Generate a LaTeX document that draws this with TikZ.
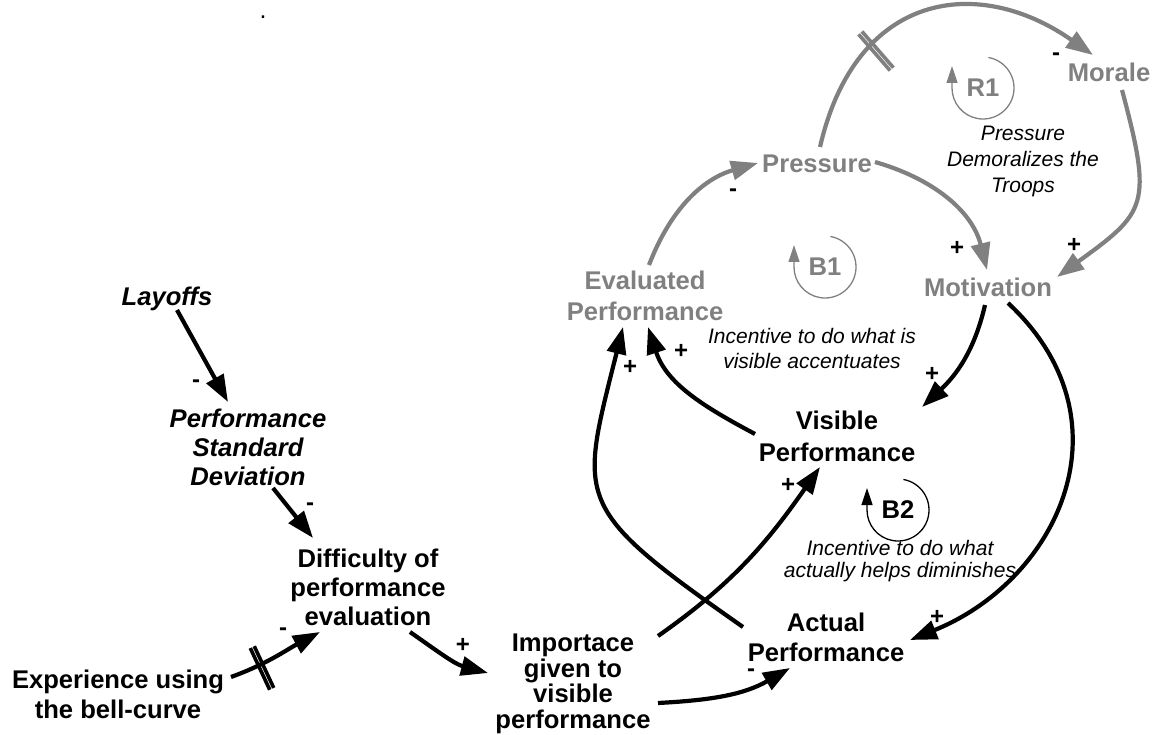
\documentclass[tikz,border=0pt]{standalone}
\usepackage{fontspec}
\setmainfont{Liberation Sans}
\usetikzlibrary{arrows.meta,calc}
\definecolor{lgray}{RGB}{128,128,128}
\begin{document}
\begin{tikzpicture}[x=1pt,y=1pt,
  var/.style={align=center, font=\fontsize{25.6}{30}\selectfont\bfseries, inner sep=0pt},
  ivar/.style={var, font=\fontsize{25.6}{29}\selectfont\bfseries\itshape},
  gvar/.style={var, text=lgray},
  note/.style={align=center, font=\fontsize{21}{25}\selectfont\itshape, inner sep=0pt},
  sgn/.style={font=\fontsize{24}{24}\selectfont\bfseries, inner sep=0pt},
  link/.style={line width=4.2pt, -{Triangle[length=27pt,width=19pt]}},
  glink/.style={link, lgray},
  loopb/.style={line width=1.3pt, -{Triangle[length=17pt,width=11pt]}},
  gloopb/.style={loopb, lgray},
  delaymk/.style={line width=3.6pt},
]
\useasboundingbox (0,0) rectangle (1156,-735);

% variables
\node[var, font=\fontsize{25}{30}\selectfont] (dot) at (263,-17) {.};
\node[ivar] (lay) at (167,-299) {Layoffs};
\node[ivar] (psd) at (248,-447) {Performance\\Standard\\Deviation};
\node[var, font=\fontsize{25.6}{29}\selectfont\bfseries] (dif) at (368,-587) {Difficulty of\\performance\\evaluation};
\node[var] (exp) at (118,-694) {Experience using\\the bell-curve};
\node[var, font=\fontsize{25.6}{25.5}\selectfont\bfseries] (imp) at (573,-684) {Importace\\given to\\visible\\performance};
\node[var] (act) at (826,-637) {Actual\\Performance};
\node[var, font=\fontsize{25.6}{32}\selectfont\bfseries] (vis) at (837,-436) {Visible\\Performance};
\node[gvar, font=\fontsize{25.6}{31}\selectfont\bfseries] (eva) at (645,-296) {Evaluated\\Performance};
\node[gvar] (mot) at (988,-287) {Motivation};
\node[gvar] (pre) at (817,-164) {Pressure};
\node[gvar] (mor) at (1109,-72) {Morale};

% loop names and notes
\node[gvar] (R1) at (983,-88) {R1};
\node[gvar] (B1) at (825,-267) {B1};
\node[var] (B2) at (898,-510) {B2};
\node[note, font=\fontsize{21}{26}\selectfont\itshape] (n1) at (1023,-161) {Pressure\\Demoralizes the\\Troops};
\node[note] (n2) at (812,-348) {Incentive to do what is\\visible accentuates};
\node[note, font=\fontsize{21}{22}\selectfont\itshape] (n3) at (900,-561) {Incentive to do what\\actually helps diminishes};

% loop arrows
\draw[gloopb] ($(R1)+(80:31)$) arc[start angle=80, end angle=-180, radius=31] -- ++(0,22);
\draw[gloopb] ($(B1)+(80:31)$) arc[start angle=80, end angle=-180, radius=31] -- ++(0,22);
\draw[loopb] ($(B2)+(80:31)$) arc[start angle=80, end angle=-180, radius=31] -- ++(0,22);

% black links
\draw[link] ($(lay)+(10,-11)$) -- ($(psd)+(-20,45)$);
\draw[link] ($(psd)+(25,-41)$) -- ($(dif)+(-55,49)$);
\draw[link] ($(exp)+(113,17)$) to[out=20,in=208] ($(dif)+(-48,-45)$);
\coordinate (d1) at (262,-668);
\draw[delaymk] ($(d1)+(25:2.2)+(115:23)$) -- ($(d1)+(25:2.2)+(-65:23)$);
\draw[delaymk] ($(d1)+(205:2.2)+(115:23)$) -- ($(d1)+(205:2.2)+(-65:23)$);
\draw[link] ($(dif)+(42,-45)$) to[out=-35,in=165] ($(imp)+(-85,11)$);
\draw[link] ($(imp)+(85,-19)$) to[out=3,in=210] ($(act)+(-36,-31)$);
\draw[link] ($(imp)+(85,48)$) to[out=35,in=235] ($(vis)+(-17,-31)$);
\draw[link] ($(act)+(-83,10)$) .. controls +(145:210) and +(256:180) .. ($(eva)+(-22,-31)$);
\draw[link] ($(vis)+(-82,2)$) to[out=152,in=-72] ($(eva)+(3,-31)$);
\draw[link] ($(mot)+(-3,-18)$) to[out=-103,in=43] ($(vis)+(85,29)$);
\draw[link] ($(mot)+(20,-16)$) .. controls +(-43:172) and +(22:160) .. ($(act)+(84,-3)$);

% gray links
\draw[glink] ($(eva)+(4,31)$) to[out=69,in=196] ($(pre)+(-59,1)$);
\draw[glink] ($(pre)+(58,2)$) to[out=-16,in=104] ($(mot)+(-1,17)$);
\draw[glink] ($(pre)+(3,17)$) .. controls +(77:160) and +(145:140) .. ($(mor)+(-16,17)$);
\coordinate (d2) at (876,-51);
\draw[delaymk, lgray] ($(d2)+(41:2.2)+(131:24)$) -- ($(d2)+(41:2.2)+(-49:24)$);
\draw[delaymk, lgray] ($(d2)+(221:2.2)+(131:24)$) -- ($(d2)+(221:2.2)+(-49:24)$);
\draw[glink] ($(mor)+(13,-18)$) .. controls +(-75:120) and +(36:110) .. ($(mot)+(69,10)$);

% polarity signs
\node[sgn] (s1) at (196,-384) {-};
\node[sgn] (s2) at (310,-507) {-};
\node[sgn] (s3) at (283,-632) {-};
\node[sgn] (s4) at (463,-645) {+};
\node[sgn] (s5) at (751,-673) {-};
\node[sgn] (s6) at (788,-485) {+};
\node[sgn] (s7) at (630,-367) {+};
\node[sgn] (s8) at (681,-351) {+};
\node[sgn] (s9) at (932,-374) {+};
\node[sgn] (s10) at (937,-617) {+};
\node[sgn] (s11) at (733,-193) {-};
\node[sgn] (s12) at (957,-248) {+};
\node[sgn] (s13) at (1056,-57) {-};
\node[sgn] (s14) at (1074,-245) {+};
\end{tikzpicture}
\end{document}
